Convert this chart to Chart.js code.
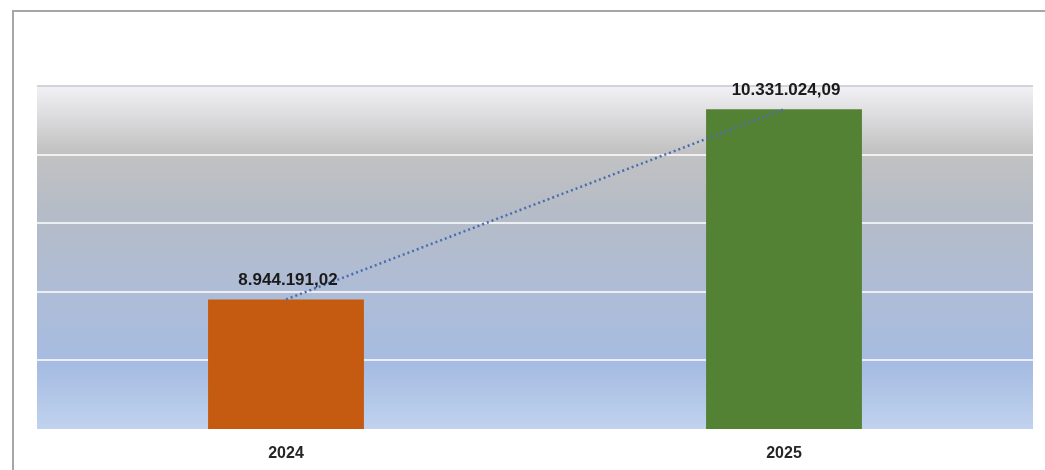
<!DOCTYPE html>
<html>
<head>
<meta charset="utf-8">
<script src="https://cdn.jsdelivr.net/npm/chart.js@4/dist/chart.umd.min.js"></script>
<style>
    html, body { margin: 0; background: #fff; overflow: hidden; }
    canvas { display: block; }
</style>
</head>
<body>
<canvas id="chart" width="1045" height="470"></canvas>
<script>
// Chart data
const years = ['2024', '2025'];
const totals = [8944191.02, 10331024.09];
const barColors = ['#C55A11', '#548235'];

const axisMin = 8000000;
const axisMax = 10500000;
const axisStep = 500000;

// Format like 8.944.191,02
function formatValue(v) {
    return v.toLocaleString('de-DE', { minimumFractionDigits: 2, maximumFractionDigits: 2 });
}

// Outer frame (left and top edges) and gradient fill behind the plot area
const plotBackground = {
    id: 'plotBackground',
    beforeDraw(chart) {
        const { ctx, chartArea: a } = chart;
        ctx.save();
        ctx.strokeStyle = '#a6a6a6';
        ctx.lineWidth = 2;
        ctx.beginPath();
        ctx.moveTo(13, chart.height);
        ctx.lineTo(13, 11);
        ctx.lineTo(chart.width, 11);
        ctx.stroke();

        const g = ctx.createLinearGradient(0, a.top, 0, a.bottom);
        g.addColorStop(0.0, '#f2f2f6');
        g.addColorStop(0.19, '#c2c2c2');
        g.addColorStop(0.35, '#b6bcc6');
        g.addColorStop(0.6, '#aebcd6');
        g.addColorStop(0.82, '#a6bce2');
        g.addColorStop(1.0, '#c0d2ee');
        ctx.fillStyle = g;
        ctx.fillRect(a.left, a.top, a.right - a.left, a.bottom - a.top);
        ctx.restore();
    }
};

// Value labels above the bars
const barLabels = {
    id: 'barLabels',
    afterDatasetsDraw(chart) {
        const { ctx } = chart;
        const meta = chart.getDatasetMeta(1);
        ctx.save();
        ctx.font = 'bold 17px "Liberation Sans", Arial, sans-serif';
        ctx.fillStyle = '#1a1a1a';
        ctx.textAlign = 'center';
        ctx.textBaseline = 'alphabetic';
        meta.data.forEach((bar, i) => {
            ctx.fillText(formatValue(totals[i]), bar.x + 2, bar.y - 14);
        });
        ctx.restore();
    }
};

new Chart(document.getElementById('chart').getContext('2d'), {
    data: {
        labels: years,
        datasets: [
            {
                type: 'line',
                label: 'Trend',
                data: totals,
                borderColor: '#4a6db0',
                borderWidth: 2.5,
                borderDash: [2, 3],
                pointRadius: 0,
                fill: false,
                order: 0
            },
            {
                type: 'bar',
                label: 'Total',
                data: totals,
                backgroundColor: barColors,
                barPercentage: 0.313,
                categoryPercentage: 1.0,
                order: 1
            }
        ]
    },
    options: {
        responsive: false,
        animation: false,
        layout: { padding: { left: 37, right: 12, top: 86, bottom: 0 } },
        plugins: {
            legend: { display: false },
            tooltip: { enabled: false }
        },
        scales: {
            x: {
                grid: { display: false },
                border: { display: false },
                ticks: {
                    color: '#262626',
                    padding: 7,
                    font: { family: '"Liberation Sans", Arial, sans-serif', size: 16, weight: 'bold' }
                },
                afterFit(scale) { scale.height = 41; }
            },
            y: {
                min: axisMin,
                max: axisMax,
                border: { display: false },
                grid: {
                    drawTicks: false,
                    lineWidth: 2,
                    color: (c) => {
                        if (c.tick && c.tick.value === axisMin) return 'rgba(0,0,0,0)';
                        if (c.tick && c.tick.value === axisMax) return '#d2d3da';
                        return 'rgba(255,255,255,0.75)';
                    }
                },
                ticks: { display: false, stepSize: axisStep },
                afterFit(scale) { scale.width = 0; }
            }
        }
    },
    plugins: [plotBackground, barLabels]
});
</script>
</body>
</html>
